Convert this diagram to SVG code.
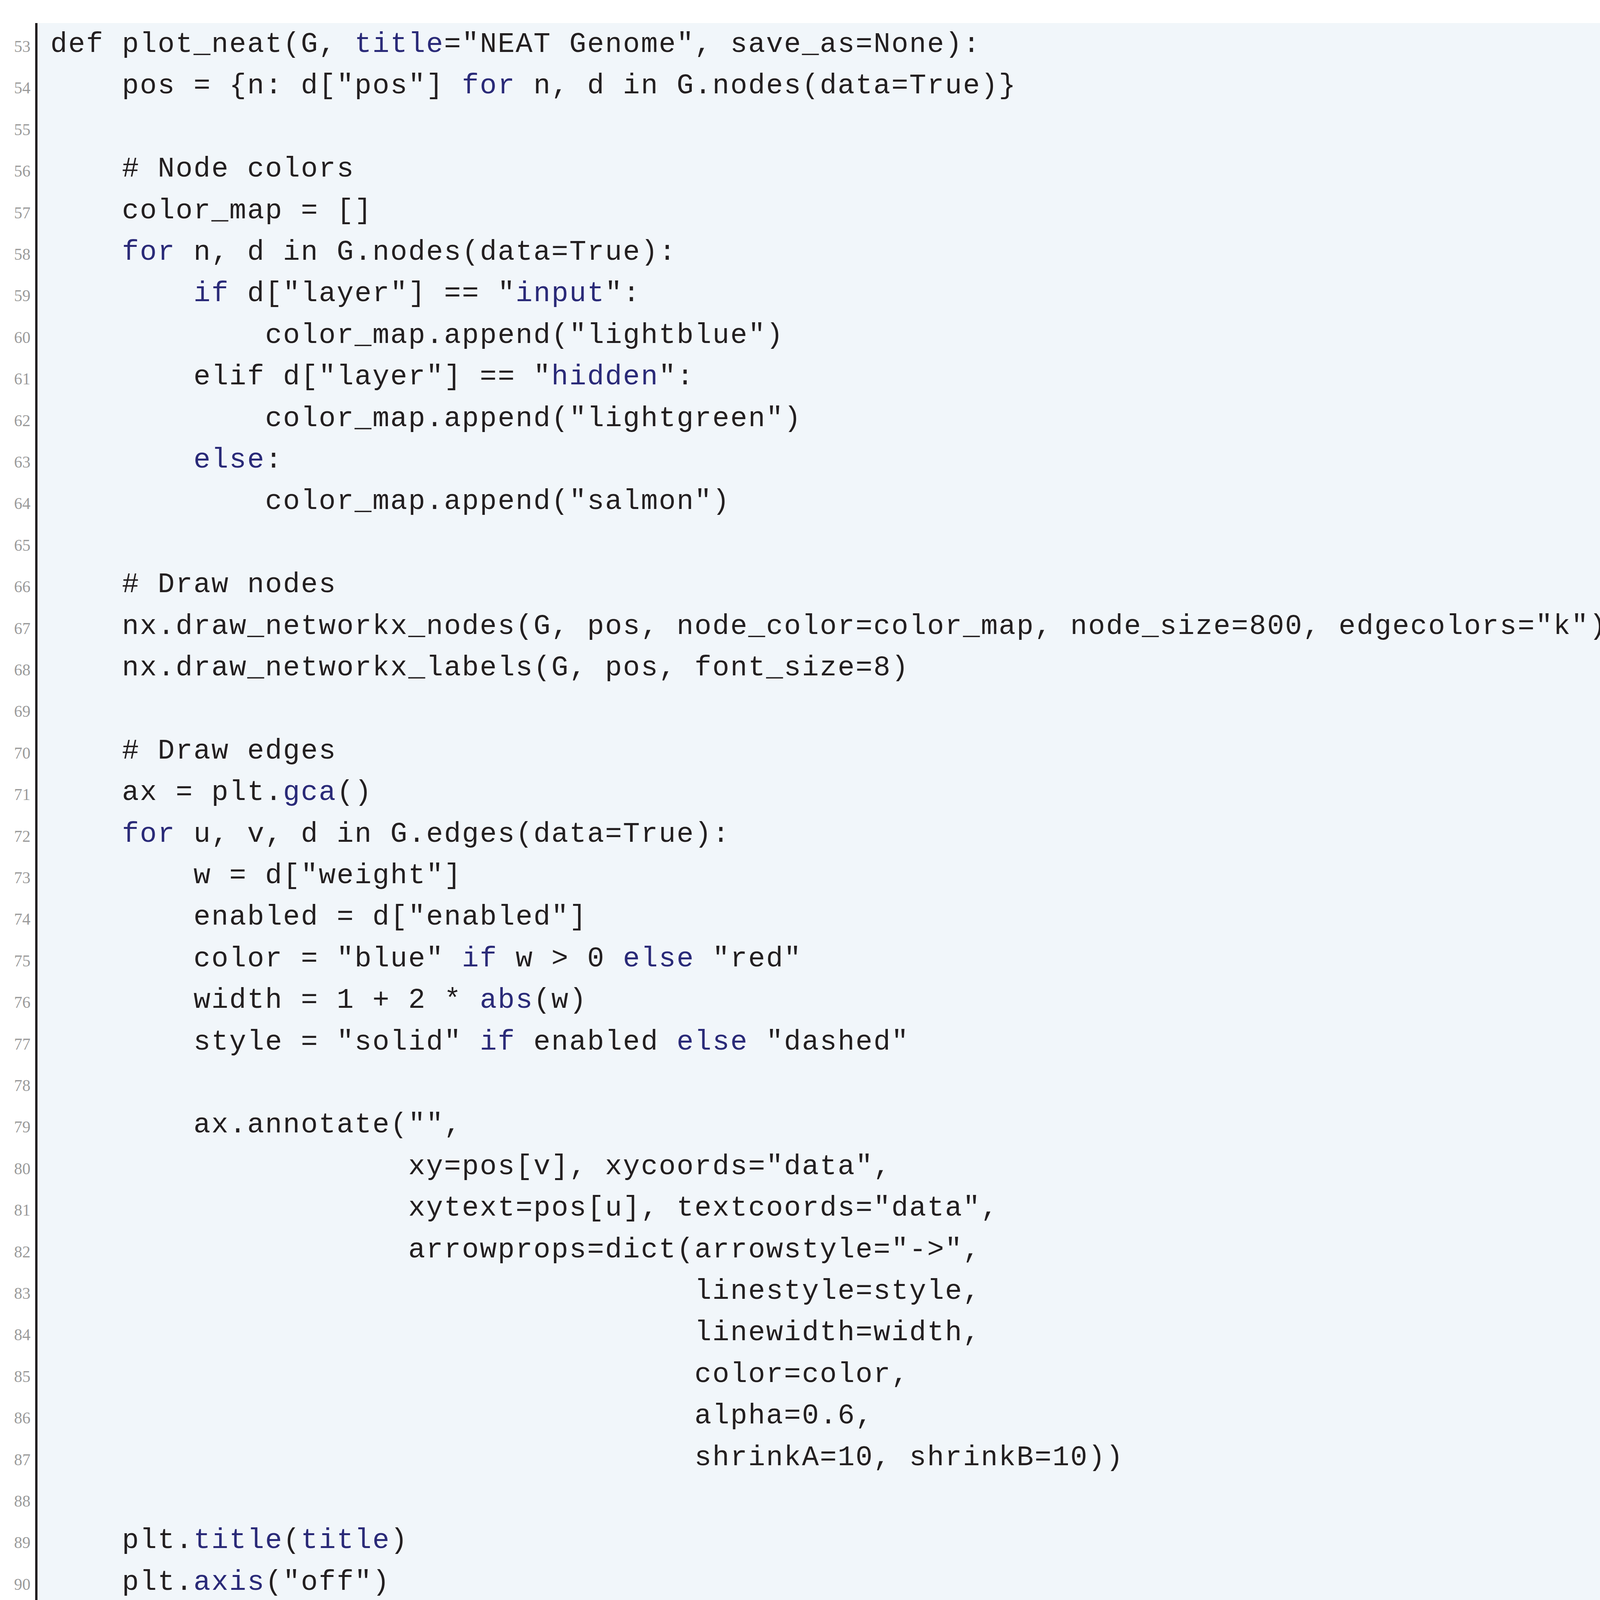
<svg xmlns="http://www.w3.org/2000/svg" width="4367" height="5356" viewBox="0 0 4367 5356">
<style>
.c{font-family:"Liberation Mono","Courier New",monospace;font-size:72px;letter-spacing:2.6px;fill:#231f20;white-space:pre}
.k{fill:#2a2a78}
.n{font-family:"Liberation Serif","Times New Roman",serif;font-size:42px;fill:#9a9a9a;text-anchor:end}
</style>
<rect x="0" y="0" width="4367" height="5356" fill="#ffffff"/>
<g id="frame">
<rect x="93" y="59" width="4235" height="5243" fill="#f1f6fa"/>
<path d="M93 59 V5302 H4328 V59" fill="none" stroke="#231f20" stroke-width="6"/>
</g>
<g id="linenumbers">
<text class="n" x="78" y="133">53</text><text class="n" x="78" y="239">54</text><text class="n" x="78" y="346">55</text><text class="n" x="78" y="452">56</text><text class="n" x="78" y="559">57</text><text class="n" x="78" y="665">58</text><text class="n" x="78" y="771">59</text><text class="n" x="78" y="878">60</text><text class="n" x="78" y="984">61</text><text class="n" x="78" y="1091">62</text><text class="n" x="78" y="1197">63</text><text class="n" x="78" y="1303">64</text><text class="n" x="78" y="1410">65</text><text class="n" x="78" y="1516">66</text><text class="n" x="78" y="1623">67</text><text class="n" x="78" y="1729">68</text><text class="n" x="78" y="1835">69</text><text class="n" x="78" y="1942">70</text><text class="n" x="78" y="2048">71</text><text class="n" x="78" y="2155">72</text><text class="n" x="78" y="2261">73</text><text class="n" x="78" y="2367">74</text><text class="n" x="78" y="2474">75</text><text class="n" x="78" y="2580">76</text><text class="n" x="78" y="2687">77</text><text class="n" x="78" y="2793">78</text><text class="n" x="78" y="2899">79</text><text class="n" x="78" y="3006">80</text><text class="n" x="78" y="3112">81</text><text class="n" x="78" y="3219">82</text><text class="n" x="78" y="3325">83</text><text class="n" x="78" y="3431">84</text><text class="n" x="78" y="3538">85</text><text class="n" x="78" y="3644">86</text><text class="n" x="78" y="3751">87</text><text class="n" x="78" y="3857">88</text><text class="n" x="78" y="3963">89</text><text class="n" x="78" y="4070">90</text><text class="n" x="78" y="4176">91</text><text class="n" x="78" y="4283">92</text><text class="n" x="78" y="4389">93</text><text class="n" x="78" y="4495">94</text><text class="n" x="78" y="4602">95</text><text class="n" x="78" y="4708">96</text><text class="n" x="78" y="4815">97</text><text class="n" x="78" y="4921">98</text><text class="n" x="78" y="5027">99</text><text class="n" x="78" y="5134">100</text><text class="n" x="78" y="5240">101</text>
</g>
<g id="code">
<text class="c" x="129" y="133">def plot_neat(G, <tspan class="k">title</tspan>="NEAT Genome", save_as=None):</text>
<text class="c" x="129" y="239">    pos = {n: d["pos"] <tspan class="k">for</tspan> n, d in G.nodes(data=True)}</text>
<text class="c" x="129" y="452">    # Node colors</text>
<text class="c" x="129" y="559">    color_map = []</text>
<text class="c" x="129" y="665">    <tspan class="k">for</tspan> n, d in G.nodes(data=True):</text>
<text class="c" x="129" y="771">        <tspan class="k">if</tspan> d["layer"] == "<tspan class="k">input</tspan>":</text>
<text class="c" x="129" y="878">            color_map.append("lightblue")</text>
<text class="c" x="129" y="984">        elif d["layer"] == "<tspan class="k">hidden</tspan>":</text>
<text class="c" x="129" y="1091">            color_map.append("lightgreen")</text>
<text class="c" x="129" y="1197">        <tspan class="k">else</tspan>:</text>
<text class="c" x="129" y="1303">            color_map.append("salmon")</text>
<text class="c" x="129" y="1516">    # Draw nodes</text>
<text class="c" x="129" y="1623">    nx.draw_networkx_nodes(G, pos, node_color=color_map, node_size=800, edgecolors="k")</text>
<text class="c" x="129" y="1729">    nx.draw_networkx_labels(G, pos, font_size=8)</text>
<text class="c" x="129" y="1942">    # Draw edges</text>
<text class="c" x="129" y="2048">    ax = plt.<tspan class="k">gca</tspan>()</text>
<text class="c" x="129" y="2155">    <tspan class="k">for</tspan> u, v, d in G.edges(data=True):</text>
<text class="c" x="129" y="2261">        w = d["weight"]</text>
<text class="c" x="129" y="2367">        enabled = d["enabled"]</text>
<text class="c" x="129" y="2474">        color = "blue" <tspan class="k">if</tspan> w &gt; 0 <tspan class="k">else</tspan> "red"</text>
<text class="c" x="129" y="2580">        width = 1 + 2 * <tspan class="k">abs</tspan>(w)</text>
<text class="c" x="129" y="2687">        style = "solid" <tspan class="k">if</tspan> enabled <tspan class="k">else</tspan> "dashed"</text>
<text class="c" x="129" y="2899">        ax.annotate("",</text>
<text class="c" x="129" y="3006">                    xy=pos[v], xycoords="data",</text>
<text class="c" x="129" y="3112">                    xytext=pos[u], textcoords="data",</text>
<text class="c" x="129" y="3219">                    arrowprops=dict(arrowstyle="-&gt;",</text>
<text class="c" x="129" y="3325">                                    linestyle=style,</text>
<text class="c" x="129" y="3431">                                    linewidth=width,</text>
<text class="c" x="129" y="3538">                                    color=color,</text>
<text class="c" x="129" y="3644">                                    alpha=0.6,</text>
<text class="c" x="129" y="3751">                                    shrinkA=10, shrinkB=10))</text>
<text class="c" x="129" y="3963">    plt.<tspan class="k">title</tspan>(<tspan class="k">title</tspan>)</text>
<text class="c" x="129" y="4070">    plt.<tspan class="k">axis</tspan>("off")</text>
<text class="c" x="129" y="4176">    plt.tight_layout()</text>
<text class="c" x="129" y="4283">    <tspan class="k">if</tspan> save_as:</text>
<text class="c" x="129" y="4389">        plt.savefig(save_as, dπ=300, bbox_inches="tight")</text>
<text class="c" x="129" y="4495">    plt.show()</text>
<text class="c" x="129" y="4708"># -------------------------</text>
<text class="c" x="129" y="4815"># Example run</text>
<text class="c" x="129" y="4921"># -------------------------</text>
<text class="c" x="129" y="5027"><tspan class="k">if</tspan> __name__ == "__main__":</text>
<text class="c" x="129" y="5134">    G = generate_neat_genome()</text>
<text class="c" x="129" y="5240">    plot_neat(G, <tspan class="k">title</tspan>="NEAT Example Genome", save_as="neat_genome.png")</text>
</g>
</svg>
